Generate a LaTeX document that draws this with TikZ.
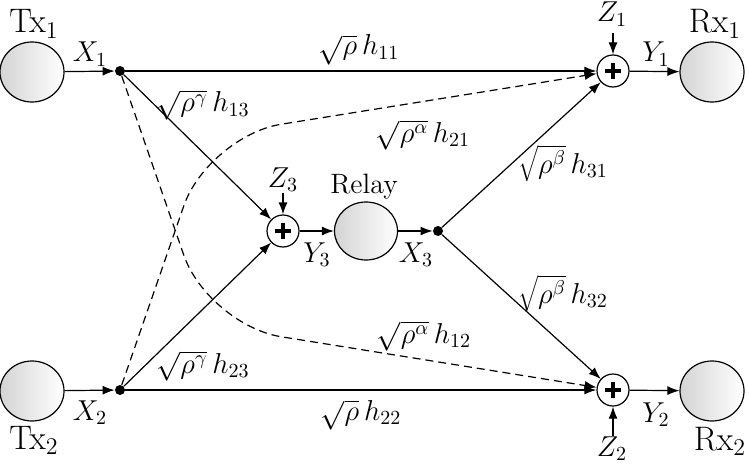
\documentclass[tikz,border=0pt]{standalone}
\usetikzlibrary{arrows.meta,shapes.geometric}
\begin{document}
\begin{tikzpicture}[x=0.5pt,y=-0.5pt,
  term/.style={ellipse,draw,line width=0.6pt,minimum width=32pt,minimum height=30pt,inner sep=0pt,left color=black!17,right color=white},
  sumnode/.style={circle,draw,line width=0.6pt,minimum size=16pt,inner sep=0pt,fill=white,
    path picture={\draw[line width=2.2pt] (path picture bounding box.center) +(-3.8pt,0) -- +(3.8pt,0)
      (path picture bounding box.center) +(0,-3.8pt) -- +(0,3.8pt);}},
  dotn/.style={circle,fill,inner sep=0pt,minimum size=5pt},
  conn/.style={line width=0.6pt},
  arr/.style={conn,-{Latex[length=6pt,width=4.5pt]}},
  darr/.style={arr,dashed,dash pattern=on 4pt off 2.5pt,rounded corners=37pt},
  lbl/.style={inner sep=0pt,anchor=base,font=\fontsize{14}{16}\selectfont},
  big/.style={inner sep=0pt,anchor=base,font=\fontsize{17}{19}\selectfont},
]
\useasboundingbox (0,0) rectangle (749,465);
% terminals
\node[term] (tx1) at (32,72) {};
\node[term] (tx2) at (32,391) {};
\node[term] (rx1) at (712,72) {};
\node[term] (rx2) at (712,391) {};
\node[term,minimum width=31.5pt,minimum height=29pt] (relay) at (366,231) {};
% sums
\node[sumnode] (s1) at (613,71) {};
\node[sumnode] (s2) at (613,390) {};
\node[sumnode] (s3) at (283,231) {};
% dots
\node[dotn] (d1) at (120,71) {};
\node[dotn] (d2) at (120,390) {};
\node[dotn] (d3) at (438,231) {};
% noise sources
\coordinate (z1) at (613,33);
\coordinate (z2) at (613,436);
\coordinate (z3) at (283,193);
% labels
\node[big] (ltx1) at (34,33) {Tx$_1$};
\node[big] (ltx2) at (34,449) {Tx$_2$};
\node[big] (lrx1) at (715,33) {Rx$_1$};
\node[big] (lrx2) at (720,450) {Rx$_2$};
\node[lbl] (lrelay) at (364,193) {Relay};
\node[lbl] (lx1) at (90,62) {$X_1$};
\node[lbl] (lx2) at (90,420) {$X_2$};
\node[lbl] (lx3) at (416,262) {$X_3$};
\node[lbl] (ly1) at (656,62) {$Y_1$};
\node[lbl] (ly2) at (656,422) {$Y_2$};
\node[lbl] (ly3) at (317,262) {$Y_3$};
\node[lbl] (lz1) at (612,22) {$Z_1$};
\node[lbl] (lz2) at (612,456) {$Z_2$};
\node[lbl] (lz3) at (283,187) {$Z_3$};
% edge labels
\node[lbl] (e11) at (359,55) {$\sqrt{\rho}\,h_{11}$};
\node[lbl] (e13) at (203,112) {$\sqrt{\rho^\gamma}\,h_{13}$};
\node[lbl] (e21) at (423,142) {$\sqrt{\rho^\alpha}\,h_{21}$};
\node[lbl] (e31) at (563,173) {$\sqrt{\rho^\beta}\,h_{31}$};
\node[lbl] (e32) at (563,303) {$\sqrt{\rho^\beta}\,h_{32}$};
\node[lbl] (e12) at (424,343) {$\sqrt{\rho^\alpha}\,h_{12}$};
\node[lbl] (e23) at (203,373) {$\sqrt{\rho^\gamma}\,h_{23}$};
\node[lbl] (e22) at (361,420) {$\sqrt{\rho}\,h_{22}$};
% connectors
\draw[arr] (tx1) -- (d1);
\draw[arr] (tx2) -- (d2);
\draw[arr] (d1) -- (s1);
\draw[arr] (d2) -- (s2);
\draw[arr] (d1) -- (s3);
\draw[arr] (d2) -- (s3);
\draw[arr] (s3) -- (relay);
\draw[arr] (relay) -- (d3);
\draw[arr] (d3) -- (s1);
\draw[arr] (d3) -- (s2);
\draw[arr] (s1) -- (rx1);
\draw[arr] (s2) -- (rx2);
\draw[arr] (z1) -- (s1);
\draw[arr] (z2) -- (s2);
\draw[arr] (z3) -- (s3);
\draw[darr] (d1) -- (208,325) -- (s2);
\draw[darr] (d2) -- (208,136) -- (s1);
\end{tikzpicture}
\end{document}
